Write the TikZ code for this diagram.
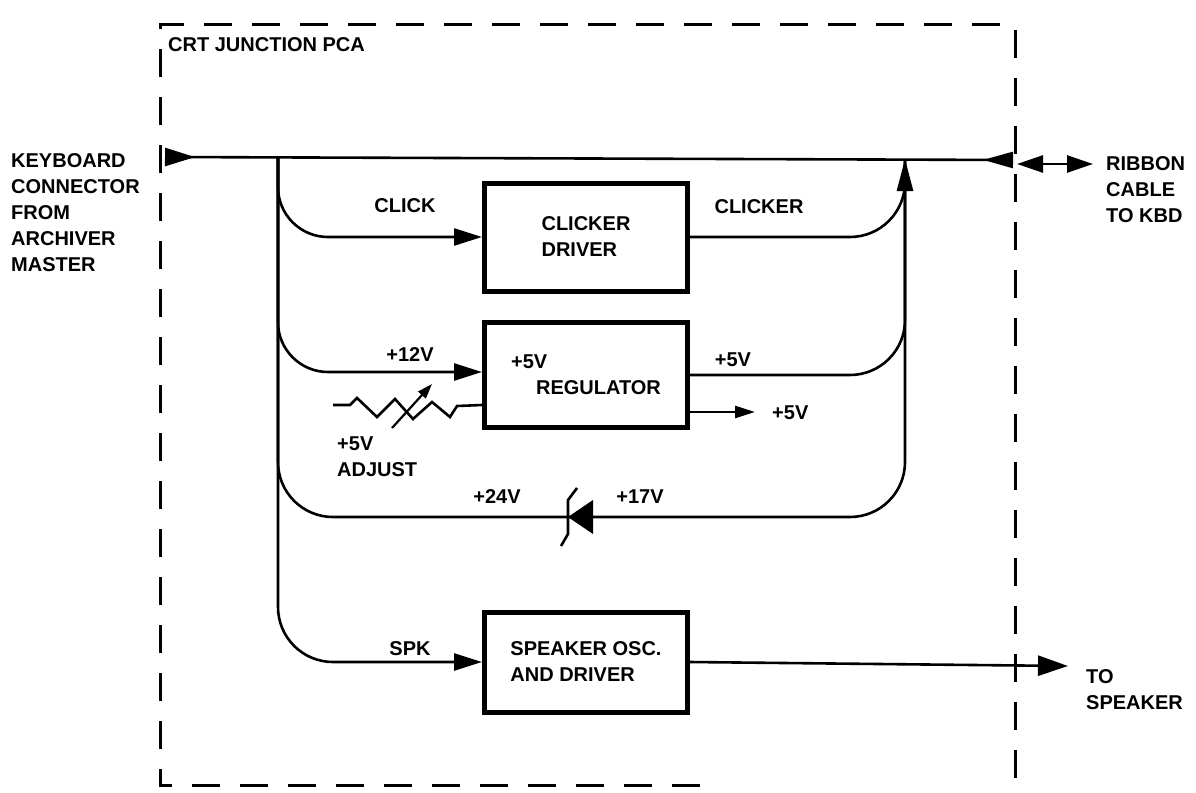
\documentclass[tikz,border=0pt]{standalone}
\usepackage{fontspec}
\setmainfont{Liberation Sans}
\usetikzlibrary{arrows.meta}
\begin{document}
\begin{tikzpicture}[x=1pt,y=-1pt,
  wire/.style={line width=2.6pt},
  block/.style={draw,line width=5pt,minimum width=203pt,minimum height=105pt,align=left,
    font=\bfseries\fontsize{20}{26}\selectfont},
  lbl/.style={inner sep=0pt,align=left,font=\bfseries\fontsize{20}{26}\selectfont},
  tip/.style={-{Triangle[length=28pt,width=17pt]}}]
\useasboundingbox (0,0) rectangle (1196,792);
% board outline
\draw[line width=3pt,dash pattern=on 28pt off 20pt] (700,785) -- (160,785) -- (160,25) -- (1015,25) -- (1015,792);
\node[lbl,anchor=west] (pca) at (168,45) {CRT JUNCTION PCA};

% blocks
\node[block,minimum height=108pt] (clk) at (586,237) {CLICKER\\DRIVER};
\node[block] (reg) at (586,375) {+5V\\\hspace*{25pt}REGULATOR};
\node[block,minimum height=100pt] (spk) at (586,662) {SPEAKER OSC.\\AND DRIVER};

\coordinate (kbdin) at (165,157);
\coordinate (kbdout) at (1013,160);
\coordinate (tap) at (278,157);
\coordinate (join) at (905,159);
\coordinate (zen) at (568,517);
\coordinate (adj) at (333,405);
\coordinate (ribA) at (1017,164);
\coordinate (ribB) at (1093,164);
\coordinate (spkout) at (1068,666);

% bus
\draw[wire,{Triangle[reversed,length=30pt,width=18pt]}-{Triangle[reversed,length=30pt,width=16pt]}] (kbdin) -- (kbdout);
\draw[wire,{Triangle[length=26pt,width=17pt]}-{Triangle[length=26pt,width=17pt]}] (ribA) -- (ribB);

% left trunk and inputs
\draw[wire,tip,rounded corners=55pt] (tap) -- (tap |- spk.west) -- (spk.west);
\draw[wire,tip,rounded corners=50pt] (tap) -- (tap |- clk.west) -- (clk.west);
\draw[wire,tip,rounded corners=50pt] (tap) -- (tap |- 0,372) -- (reg.west |- 0,372);
\draw[wire,rounded corners=55pt] (tap) -- (tap |- zen) -- (join |- zen) -- (join);

% outputs to the bus
\draw[wire,-{Triangle[length=32pt,width=16pt]},rounded corners=55pt] (clk.east) -- (join |- clk.east) -- (join);
\draw[wire,rounded corners=55pt] (reg.east) -- (join |- reg.east) -- (join);
\draw[wire,-{Triangle[length=20pt,width=12pt]}] (reg.east |- 0,412) -- (755,412);
\draw[wire,-{Triangle[length=30pt,width=20pt]}] (spk.east) -- (spkout);

% adjust pot
\draw[wire] (adj) -- ++(17,0) -- ++(7,-7) -- ++(20,19) -- ++(18,-18) -- ++(18,20)
  -- ++(19,-17) -- ++(18,15) -- ++(7,-11) -- (adj -| reg.west);
\draw[line width=2.2pt,-{Triangle[length=15pt,width=10pt]}] (392,428) -- (432,384);

% zener
\fill (zen) -- ++(25,-17) -- ++(0,34) -- cycle;
\draw[line width=2.6pt] (zen) ++(9,-29) -- ++(-9,12) -- ++(0,34) -- ++(-7,12);

% labels
\node[lbl] (lclick) at (405,206) {CLICK};
\node[lbl] (lclicker) at (759,207) {CLICKER};
\node[lbl] (l12) at (410,355) {+12V};
\node[lbl] (lreg) at (733,360) {+5V};
\node[lbl,anchor=west] (lout) at (772,413) {+5V};
\node[lbl,anchor=north west] (ladj) at (337,437) {+5V\\ADJUST};
\node[lbl] (l24) at (497,497) {+24V};
\node[lbl] (l17) at (640,497) {+17V};
\node[lbl] (lspk) at (410,649) {SPK};
\node[lbl,anchor=west] (lkbd) at (11,213) {KEYBOARD\\CONNECTOR\\FROM\\ARCHIVER\\MASTER};
\node[lbl,anchor=west] (lrib) at (1106,190) {RIBBON\\CABLE\\TO KBD};
\node[lbl,anchor=west] (lspkr) at (1086,690) {TO\\SPEAKER};
\end{tikzpicture}
\end{document}
